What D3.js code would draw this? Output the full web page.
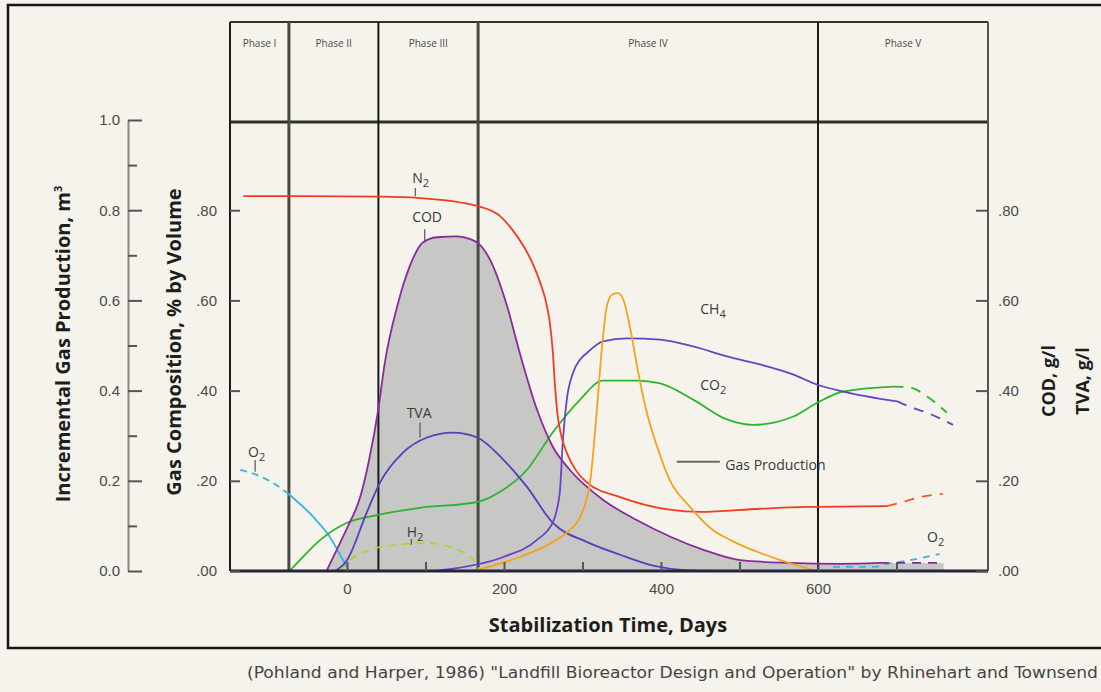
<!DOCTYPE html>
<html>
<head>
<meta charset="utf-8">
<title>Landfill stabilization phases</title>
<script src="https://cdn.jsdelivr.net/npm/d3@7"></script>
<style>
body { margin: 0; background: #f5f3ec; }
svg { display: block; font-family: "Open Sans", "DejaVu Sans", sans-serif; }
.tick text { fill: #4a4a4a; font-size: 15px; }
.lbl { fill: #3a3a3a; font-size: 14px; }
.title { font-weight: 700; fill: #1e1e1e; }
</style>
</head>
<body>
<svg id="chart" width="1101" height="692"></svg>
<script>
// phases (day boundaries between them)
var phaseNames = ["Phase I", "Phase II", "Phase III", "Phase IV", "Phase V"];
var phaseBreaks = [-74, 40, 167, 600];

// x ticks
var dayTicks = [0, 100, 200, 300, 400, 500, 600, 700];
var dayLabels = [0, 200, 400, 600];
var prodTicks = [0, 0.2, 0.4, 0.6, 0.8, 1.0];
var prodMinor = [0.1, 0.3, 0.5, 0.7, 0.9];
var compTicks = [0, 0.2, 0.4, 0.6, 0.8];

// series, [day, value]
var n2 = [[-132,0.831],[-60,0.831],[42,0.830],[93,0.827],[167,0.809],[195,0.787],[210,0.758],[225,0.72],[237,0.68],[246,0.64],[253,0.60],[258,0.555],[262,0.49],[265,0.41],[268,0.35],[273,0.30],[280,0.262],[292,0.222],[306,0.196],[348,0.164],[411,0.136],[450,0.131],[526,0.138],[586,0.142],[688,0.144]];
var n2Tail = [[688,0.144],[704,0.151],[730,0.164],[759,0.171]];

var cod = [[-26,0],[-15,0.04],[0,0.095],[17,0.165],[28,0.245],[40,0.36],[48,0.46],[64,0.587],[80,0.676],[97,0.729],[115,0.740],[140,0.742],[157,0.736],[167,0.727],[182,0.691],[204,0.587],[220,0.484],[242,0.358],[262,0.276],[284,0.224],[326,0.158],[369,0.113],[412,0.076],[454,0.047],[501,0.024],[564,0.018],[628,0.016],[679,0.018]];
var codTail = [[679,0.018],[720,0.018],[760,0.018]];

var tva = [[-15,0],[0,0.024],[25,0.129],[42,0.196],[71,0.262],[102,0.296],[135,0.307],[166,0.296],[199,0.247],[229,0.187],[262,0.107],[306,0.064],[348,0.036],[390,0.012],[430,0.002],[470,0]];

var ch4 = [[110,0],[135,0.005],[199,0.031],[242,0.069],[262,0.107],[271,0.173],[275,0.29],[280,0.38],[288,0.44],[297,0.469],[306,0.484],[326,0.509],[357,0.516],[399,0.513],[441,0.498],[484,0.476],[526,0.458],[568,0.436],[599,0.413],[632,0.398],[701,0.376]];
var ch4Tail = [[701,0.376],[717,0.364],[739,0.351],[772,0.324]];

var co2 = [[-73,0],[-60,0.024],[-34,0.069],[0,0.107],[38,0.124],[93,0.140],[166,0.153],[199,0.180],[229,0.224],[262,0.307],[297,0.380],[326,0.422],[369,0.422],[399,0.416],[441,0.380],[484,0.336],[517,0.324],[568,0.342],[599,0.373],[632,0.398],[696,0.409]];
var co2Tail = [[696,0.409],[717,0.407],[739,0.387],[764,0.351]];

var gasProd = [[160,0],[220,0.031],[262,0.064],[284,0.091],[297,0.12],[310,0.202],[318,0.351],[325,0.5],[331,0.587],[338,0.613],[345,0.616],[352,0.602],[361,0.536],[371,0.44],[382,0.351],[395,0.276],[411,0.202],[437,0.142],[466,0.091],[488,0.069],[552,0.024],[594,0.002]];

var o2Dash = [[-136,0.224],[-115,0.213],[-95,0.196],[-76,0.173]];
var o2 = [[-76,0.173],[-43,0.120],[-22,0.076],[-5,0.024],[3,0]];
var o2Late = [[619,0.009],[670,0.009],[688,0.016],[717,0.024],[755,0.038]];

var h2 = [[-8,0],[0,0.018],[29,0.047],[64,0.058],[102,0.062],[135,0.051],[161,0.024],[169,0.003]];

var svg = d3.select("#chart");

// plot box in pixels
var boxL = 230, boxR = 988, boxT = 22, band = 122, boxB = 571;

var x = d3.scaleLinear().domain([0, 600]).range([347, 818]);
var y = d3.scaleLinear().domain([0, 1]).range([boxB, 120]);

// outer frame
svg.append("rect")
  .attr("x", 8).attr("y", 5).attr("width", 1120).attr("height", 643)
  .attr("fill", "none").attr("stroke", "#151515").attr("stroke-width", 2.5);

// COD shading
var area = d3.area()
  .x(function(d) { return x(d[0]); })
  .y0(y(0))
  .y1(function(d) { return y(d[1]); })
  .curve(d3.curveMonotoneX);

svg.append("path")
  .attr("d", area(cod.concat(codTail.slice(1))))
  .attr("fill", "#c7c7c5");

// header band and phase lines
svg.append("line").attr("x1", boxL).attr("x2", boxR).attr("y1", boxT).attr("y2", boxT)
  .attr("stroke", "#333").attr("stroke-width", 2);
svg.append("line").attr("x1", boxL).attr("x2", boxR).attr("y1", band).attr("y2", band)
  .attr("stroke", "#2e3320").attr("stroke-width", 3);
svg.append("line").attr("x1", boxL).attr("x2", boxL).attr("y1", boxT).attr("y2", boxB)
  .attr("stroke", "#1a1a1a").attr("stroke-width", 2);
svg.append("line").attr("x1", boxR).attr("x2", boxR).attr("y1", boxT).attr("y2", boxB)
  .attr("stroke", "#555").attr("stroke-width", 2);

svg.selectAll(".phase-line")
  .data(phaseBreaks)
  .enter().append("line")
  .attr("class", "phase-line")
  .attr("x1", function(d) { return x(d); })
  .attr("x2", function(d) { return x(d); })
  .attr("y1", boxT).attr("y2", boxB)
  .attr("stroke", function(d, i) { return (i == 0 || i == 2) ? "#4a4a44" : "#1a1a1a"; })
  .attr("stroke-width", function(d, i) { return (i == 0 || i == 2) ? 3 : 2; });

var edges = [boxL].concat(phaseBreaks.map(function(d) { return x(d); })).concat([boxR]);
svg.selectAll(".phase-name")
  .data(phaseNames)
  .enter().append("text")
  .attr("class", "phase-name")
  .attr("x", function(d, i) { return (edges[i] + edges[i + 1]) / 2; })
  .attr("y", 47)
  .attr("text-anchor", "middle")
  .attr("font-size", "10px")
  .attr("fill", "#4a4a4a")
  .text(function(d) { return d; });

// lines
var line = d3.line()
  .x(function(d) { return x(d[0]); })
  .y(function(d) { return y(d[1]); })
  .curve(d3.curveMonotoneX);

function drawLine(data, color, dash) {
  svg.append("path")
    .attr("d", line(data))
    .attr("fill", "none")
    .attr("stroke", color)
    .attr("stroke-width", 1.8)
    .attr("stroke-dasharray", dash || null);
}

drawLine(h2, "#a4d83a", "8,6");
drawLine(o2Dash, "#3ab4e4", "7,5");
drawLine(o2, "#3ab4e4");
drawLine(o2Late, "#3ab4e4", "7,6");
drawLine(co2, "#2eb52e");
drawLine(co2Tail, "#2eb52e", "10,8");
drawLine(tva, "#5a3cbc");
drawLine(cod, "#8a2a9c");
drawLine(codTail, "#8a2a9c", "9,7");
drawLine(ch4, "#6a42c4");
drawLine(ch4Tail, "#6a42c4", "10,8");
drawLine(n2, "#f23c22");
drawLine(n2Tail, "#f25a22", "10,8");
drawLine(gasProd, "#f5a21c");

// baseline
svg.append("line").attr("x1", boxL).attr("x2", boxR).attr("y1", boxB).attr("y2", boxB)
  .attr("stroke", "#25253a").attr("stroke-width", 3);

// axes
var fmt2 = function(d) { return d3.format(".2f")(d).replace(/^0/, ""); };

var prodAxis = svg.append("g").attr("transform", "translate(128,0)")
  .call(d3.axisLeft(y).tickValues(prodTicks).tickSize(-14).tickSizeOuter(0).tickPadding(8).tickFormat(d3.format(".1f")));
svg.append("g").attr("transform", "translate(128,0)")
  .call(d3.axisLeft(y).tickValues(prodMinor).tickSize(-9).tickFormat(""))
  .select(".domain").remove();

var compAxis = svg.append("g").attr("transform", "translate(" + boxL + ",0)")
  .call(d3.axisLeft(y).tickValues(compTicks).tickSize(-10).tickPadding(13).tickFormat(fmt2));
compAxis.select(".domain").remove();

var codAxis = svg.append("g").attr("transform", "translate(" + boxR + ",0)")
  .call(d3.axisRight(y).tickValues(compTicks).tickSize(-12).tickPadding(10).tickFormat(fmt2));
codAxis.select(".domain").remove();

svg.append("g").attr("transform", "translate(0," + boxB + ")")
  .call(d3.axisBottom(x).tickValues(dayTicks).tickSize(-9).tickFormat(""))
  .select(".domain").remove();
svg.append("g").attr("transform", "translate(0," + boxB + ")")
  .call(d3.axisBottom(x).tickValues(dayLabels).tickSize(0).tickPadding(12))
  .select(".domain").remove();

svg.selectAll(".tick line").attr("stroke", "#555").attr("stroke-width", 2);
prodAxis.select(".domain").attr("stroke", "#8a8a80").attr("stroke-width", 2);

// axis titles
svg.append("text").attr("class", "title")
  .attr("transform", "translate(70,344) rotate(-90)")
  .attr("text-anchor", "middle").attr("font-size", "20px")
  .text("Incremental Gas Production, m")
  .append("tspan").attr("dy", -8).attr("font-size", "11px").text("3");

svg.append("text").attr("class", "title")
  .attr("transform", "translate(181,342) rotate(-90)")
  .attr("text-anchor", "middle").attr("font-size", "20px")
  .text("Gas Composition, % by Volume");

svg.append("text").attr("class", "title")
  .attr("transform", "translate(1055,381) rotate(-90)")
  .attr("text-anchor", "middle").attr("font-size", "18px")
  .text("COD, g/l");
svg.append("text").attr("class", "title")
  .attr("transform", "translate(1089,381) rotate(-90)")
  .attr("text-anchor", "middle").attr("font-size", "18px")
  .text("TVA, g/l");

svg.append("text").attr("class", "title")
  .attr("x", 608).attr("y", 632)
  .attr("text-anchor", "middle").attr("font-size", "20px")
  .text("Stabilization Time, Days");

// curve labels [text, subscript, day, value]
var labels = [
  ["N", "2", 83, 0.86],
  ["COD", "", 83, 0.773],
  ["TVA", "", 76, 0.34],
  ["H", "2", 76, 0.075],
  ["O", "2", -126, 0.253],
  ["CH", "4", 450, 0.569],
  ["CO", "2", 450, 0.402],
  ["Gas Production", "", 482, 0.224],
  ["O", "2", 739, 0.064]
];
labels.forEach(function(l) {
  var t = svg.append("text").attr("class", "lbl")
    .attr("x", x(l[2])).attr("y", y(l[3]))
    .text(l[0]);
  if (l[1]) t.append("tspan").attr("dy", 4).attr("font-size", "11px").text(l[1]);
});

// leader marks [day, from value, to value]
var leaders = [[87, 0.849, 0.831], [99, 0.758, 0.729], [93, 0.329, 0.296], [82, 0.071, 0.058], [-117, 0.246, 0.22]];
svg.selectAll(".leader")
  .data(leaders)
  .enter().append("line")
  .attr("class", "leader")
  .attr("x1", function(d) { return x(d[0]); })
  .attr("x2", function(d) { return x(d[0]); })
  .attr("y1", function(d) { return y(d[1]); })
  .attr("y2", function(d) { return y(d[2]); })
  .attr("stroke", "#555").attr("stroke-width", 1.2);

// legend mark for gas production
svg.append("line")
  .attr("x1", x(420)).attr("x2", x(475))
  .attr("y1", y(0.242)).attr("y2", y(0.242))
  .attr("stroke", "#6a6a58").attr("stroke-width", 2);

// source line
svg.append("text")
  .attr("x", 247).attr("y", 678)
  .attr("font-family", "'Liberation Sans Narrow', 'DejaVu Sans Condensed', sans-serif")
  .attr("font-size", "15px").attr("fill", "#454545")
  .attr("textLength", 851).attr("lengthAdjust", "spacingAndGlyphs")
  .text("(Pohland and Harper, 1986) \"Landfill Bioreactor Design and Operation\" by Rhinehart and Townsend");
</script>
</body>
</html>
